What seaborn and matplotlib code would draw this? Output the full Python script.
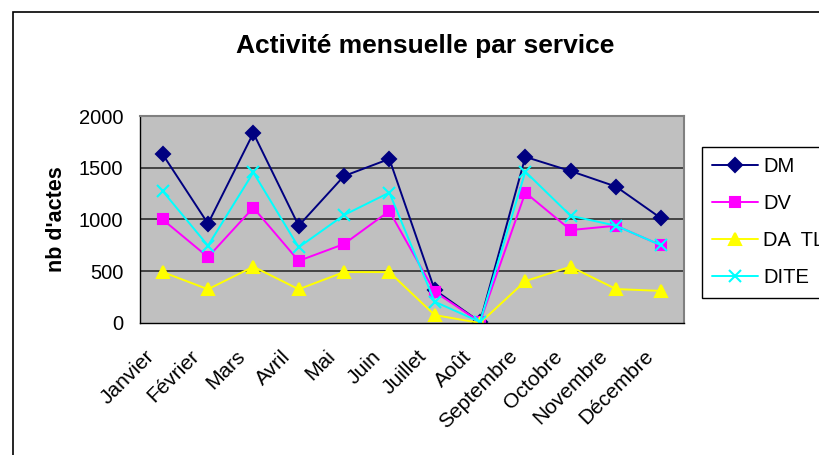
import matplotlib
matplotlib.use('Agg')
import matplotlib.pyplot as plt
import matplotlib.transforms as mtransforms
import seaborn as sns
import pandas as pd

months = ['Janvier', 'Février', 'Mars', 'Avril', 'Mai', 'Juin', 'Juillet',
          'Août', 'Septembre', 'Octobre', 'Novembre', 'Décembre']
dm = [1630, 960, 1835, 940, 1420, 1585, 320, 10, 1605, 1468, 1318, 1010]
dv = [1000, 637, 1114, 600, 763, 1082, 302, 10, 1260, 898, 940, 750]
da_tl = [492, 326, 544, 326, 492, 492, 77, 0, 405, 544, 328, 310]
dite = [1275, 747, 1455, 731, 1043, 1260, 206, 10, 1462, 1036, 940, 750]

services = ['DM', 'DV', 'DA  TL', 'DITE']
colors = {'DM': '#000080', 'DV': '#FF00FF', 'DA  TL': '#FFFF00', 'DITE': '#00FFFF'}
markers = {'DM': 'D', 'DV': 's', 'DA  TL': '^', 'DITE': 'x'}
msizes = {'DM': 7, 'DV': 7.5, 'DA  TL': 8.5, 'DITE': 8}

sns.set_theme(style='white')
plt.rcParams['font.family'] = ['Liberation Sans', 'DejaVu Sans']
plt.rcParams['text.color'] = 'black'
plt.rcParams['axes.labelcolor'] = 'black'
plt.rcParams['xtick.color'] = 'black'
plt.rcParams['ytick.color'] = 'black'

fig = plt.figure(figsize=(8.19, 4.55), dpi=100)
ax = fig.add_axes([140 / 819, 1 - 323 / 455, 544 / 819, 207 / 455])
ax.set_facecolor('#C0C0C0')

for name, vals in zip(services, [dm, dv, da_tl, dite]):
    df = pd.DataFrame({'mois': range(12), 'actes': vals})
    sns.lineplot(data=df, x='mois', y='actes', color=colors[name],
                 marker=markers[name], markersize=msizes[name],
                 markeredgecolor=colors[name], markeredgewidth=1.5,
                 linewidth=1.4, label=name, ax=ax)

ax.set_xlim(-0.5, 11.5)
ax.set_ylim(0, 2000)
ax.set_yticks([0, 500, 1000, 1500, 2000])
ax.set_xticks(range(12))
ax.set_xticklabels(months, rotation=45, ha='right', rotation_mode='anchor', fontsize=15)
ax.set_xticks([i - 0.5 for i in range(13)], minor=True)
ax.tick_params(axis='x', which='major', length=0, pad=17)
ax.tick_params(axis='x', which='minor', length=5, width=1, color='black', direction='out')
ax.tick_params(axis='y', length=5, width=1, color='black', direction='out', labelsize=14.5, pad=7)
shift = mtransforms.ScaledTranslation(-0.18, 0, fig.dpi_scale_trans)
for lab in ax.get_xticklabels():
    lab.set_transform(lab.get_transform() + shift)
for y in [500, 1000, 1500]:
    ax.axhline(y, color='#222222', lw=1.1, zorder=0.5)

for s in ['left', 'bottom']:
    ax.spines[s].set_color('black')
    ax.spines[s].set_linewidth(1)
for s in ['top', 'right']:
    ax.spines[s].set_color('#808080')
    ax.spines[s].set_linewidth(1.5)

ax.set_xlabel('')
ax.set_ylabel("nb d'actes", fontsize=15.5, fontweight='bold')
ax.yaxis.set_label_coords(-0.135, 0.5)

handles, labels = ax.get_legend_handles_labels()
ax.get_legend().remove()
leg = fig.legend(handles, labels, loc='upper left',
                 bbox_to_anchor=(702 / 819, 1 - 147 / 455), fontsize=14.5,
                 frameon=True, fancybox=False, edgecolor='black', framealpha=1,
                 handlelength=2.3, labelspacing=0.9, borderpad=0.5,
                 handletextpad=0.25, borderaxespad=0)
leg.get_frame().set_linewidth(1)

fig.text(425 / 819, 1 - 53 / 455, 'Activité mensuelle par service',
         ha='center', va='baseline', fontsize=19, fontweight='bold')

frame = plt.Rectangle((13 / 819, -0.1), 1.2, 1.1 - 12 / 455,
                      transform=fig.transFigure, fill=False, edgecolor='black',
                      lw=1.2, clip_on=False)
fig.add_artist(frame)

fig.savefig('out.png', dpi=100)
